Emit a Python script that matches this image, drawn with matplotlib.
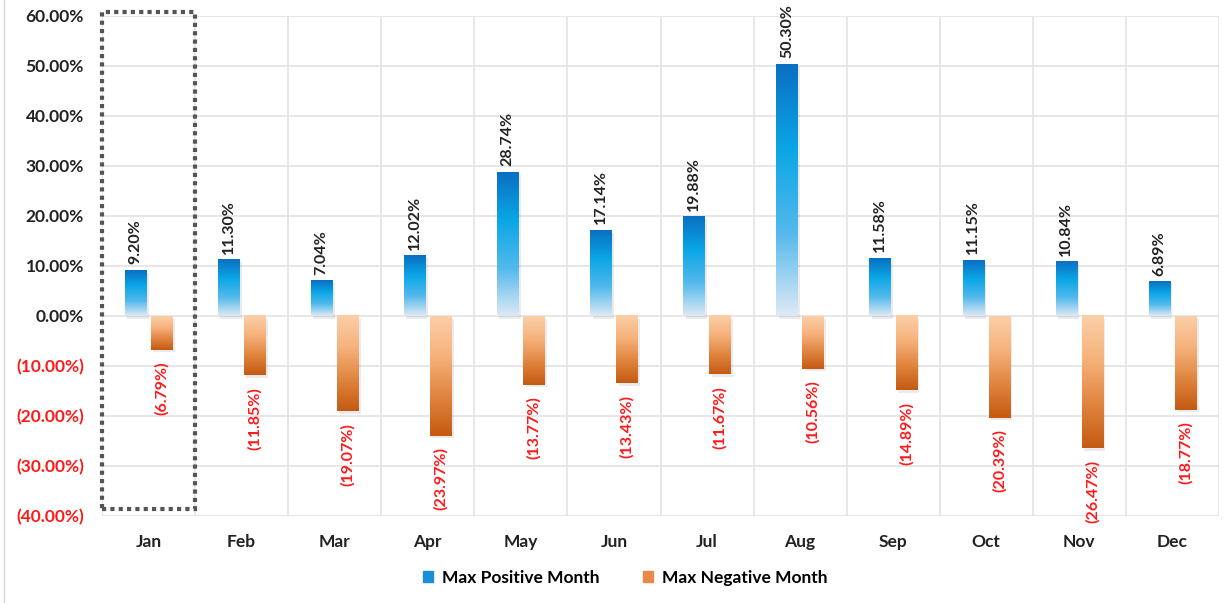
import matplotlib.pyplot as plt
import numpy as np
from matplotlib.colors import LinearSegmentedColormap
from matplotlib.patches import Rectangle
from matplotlib.lines import Line2D

months = ['Jan', 'Feb', 'Mar', 'Apr', 'May', 'Jun', 'Jul', 'Aug', 'Sep', 'Oct', 'Nov', 'Dec']
max_pos = [9.20, 11.30, 7.04, 12.02, 28.74, 17.14, 19.88, 50.30, 11.58, 11.15, 10.84, 6.89]
max_neg = [-6.79, -11.85, -19.07, -23.97, -13.77, -13.43, -11.67, -10.56, -14.89, -20.39, -26.47, -18.77]
yticks = [60, 50, 40, 30, 20, 10, 0, -10, -20, -30, -40]

plt.rcParams['font.family'] = ['Lato', 'DejaVu Sans']

fig = plt.figure(figsize=(12.28, 6.03), dpi=100)
ax = fig.add_axes([102/1228, 1-516/603, 1117/1228, 500/603])

x = np.arange(len(months))
w = 0.23
off = 0.14

# gradients: positive dark blue at top -> light at bottom, negative light at top -> dark at bottom
blue = LinearSegmentedColormap.from_list('b', ['#dfe9f5', '#52b9ec', '#0aa6e6', '#0a6fc2'])
orange = LinearSegmentedColormap.from_list('o', ['#c55a11', '#e0853f', '#f6b27c', '#fbcfa8'])
grad = np.linspace(0, 1, 256).reshape(-1, 1)

pos_bars = ax.bar(x - off, max_pos, width=w, color='none', zorder=3)
neg_bars = ax.bar(x + off, max_neg, width=w, color='none', zorder=3)

for bars, cmap in [(pos_bars, blue), (neg_bars, orange)]:
    for b in bars:
        x0, y0 = b.get_x(), b.get_y()
        bw, bh = b.get_width(), b.get_height()
        ylo, yhi = min(y0, y0 + bh), max(y0, y0 + bh)
        # soft shadow
        ax.add_patch(Rectangle((x0 + 0.025, ylo - 0.5), bw, yhi - ylo, color='#000000',
                               alpha=0.08, lw=0, zorder=2))
        ax.imshow(grad, cmap=cmap, aspect='auto', origin='lower',
                  extent=(x0, x0 + bw, ylo, yhi), zorder=3)

for xi, v in zip(x, max_pos):
    ax.text(xi - off, v + 1.2, f'{v:.2f}%', rotation=90, ha='center', va='bottom',
            fontsize=11.5, fontweight='bold', color='#222222', zorder=5)
for xi, v in zip(x, max_neg):
    ax.text(xi + off, v - 2.3, f'({abs(v):.2f}%)', rotation=90, ha='center', va='top',
            fontsize=11.5, fontweight='bold', color='#ff1a1a', zorder=5)

ax.set_xlim(-0.5, len(months) - 0.5)
ax.set_ylim(-40, 60)
ax.set_yticks(yticks)
ax.set_yticklabels([f'{t:.2f}%' if t >= 0 else f'({abs(t):.2f}%)' for t in yticks],
                   fontsize=12.5, fontweight='bold')
for lab, t in zip(ax.get_yticklabels(), yticks):
    lab.set_color('#222222' if t >= 0 else '#ff1a1a')
ax.set_xticks(x)
ax.set_xticklabels(months, fontsize=12.5, fontweight='bold', color='#222222')
ax.tick_params(axis='y', length=0, pad=13)
ax.tick_params(axis='x', length=0, pad=13)

ax.set_xticks(np.arange(-0.5, len(months)), minor=True)
ax.tick_params(which='minor', length=0)
ax.grid(True, which='minor', axis='x', color='#e3e3e3', lw=1.2, zorder=0)
ax.grid(True, which='major', axis='y', color='#e3e3e3', lw=1.2, zorder=0)
for s in ax.spines.values():
    s.set_visible(False)

# dotted box around January
ax.add_patch(Rectangle((-0.5, -38.5), 1.0, 99.3, fill=False, ls=(0, (1, 1)),
                       lw=3, edgecolor='#555555', zorder=6, clip_on=False))

# outer frame line at left
fig.add_artist(Line2D([4/1228, 4/1228], [0, 1], color='#d9d9d9', lw=1))

handles = [Rectangle((0, 0), 1, 1, color='#1a8fd8'), Rectangle((0, 0), 1, 1, color='#e8894a')]
fig.legend(handles, ['Max Positive Month', 'Max Negative Month'], loc='center',
           bbox_to_anchor=(0.509, 1-578/603), ncol=2, frameon=False,
           prop={'size': 12.5, 'weight': 'bold'}, handlelength=0.6, handleheight=0.6,
           columnspacing=2.5, handletextpad=0.5)

fig.savefig('out.png', dpi=100)
